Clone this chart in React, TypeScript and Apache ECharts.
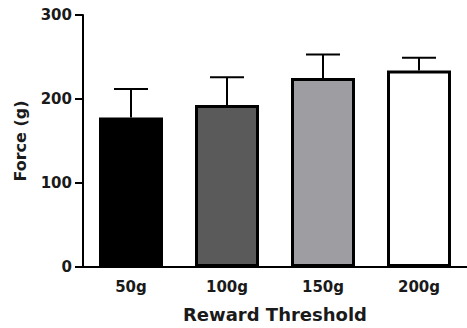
import React, { useEffect, useRef } from "react";
import * as echarts from "echarts";

const categories = ["50g", "100g", "150g", "200g"];
const means = [178, 193, 225, 234];
const upperErrors = [212, 226, 253, 249];
const barColors = ["#000000", "#5a5a5a", "#9e9ea2", "#ffffff"];
const yTicks = [0, 100, 200, 300];

const FONT = "DejaVu Sans";

export default function App() {
  const ref = useRef<HTMLDivElement>(null);
  useEffect(() => {
    if (!ref.current) return;
    const chart = echarts.init(ref.current, null, { renderer: "svg" });
    const errData = means.map((m, i) => [i, m, upperErrors[i]]);
    chart.setOption({
      animation: false,
      backgroundColor: "#ffffff",
      grid: { left: 83, right: 0, top: 15, bottom: 61 },
      xAxis: {
        type: "category",
        data: categories,
        name: "Reward Threshold",
        nameLocation: "middle",
        nameGap: 38,
        nameTextStyle: { fontFamily: FONT, fontWeight: "bold", fontSize: 18, color: "#1a1a1a" },
        axisLine: { lineStyle: { color: "#000", width: 2 } },
        axisTick: { alignWithLabel: true, length: 8, lineStyle: { color: "#000", width: 2 } },
        axisLabel: { fontFamily: FONT, fontWeight: "bold", fontSize: 15, color: "#1a1a1a", margin: 12 },
      },
      yAxis: {
        type: "value",
        min: yTicks[0],
        max: yTicks[yTicks.length - 1],
        interval: 100,
        name: "Force (g)",
        nameLocation: "middle",
        nameGap: 55,
        nameTextStyle: { fontFamily: FONT, fontWeight: "bold", fontSize: 16, color: "#1a1a1a" },
        splitLine: { show: false },
        axisLine: { show: true, lineStyle: { color: "#000", width: 2 } },
        axisTick: { show: true, length: 8, lineStyle: { color: "#000", width: 2 } },
        axisLabel: { fontFamily: FONT, fontWeight: "bold", fontSize: 15, color: "#1a1a1a", margin: 11 },
      },
      series: [
        {
          type: "custom",
          z: 1,
          data: errData,
          encode: { x: 0, y: [1, 2] },
          renderItem: (params: any, api: any) => {
            const i = api.value(0);
            const base = api.coord([i, api.value(1)]);
            const top = api.coord([i, api.value(2)]);
            const hw = 17;
            const style = { stroke: "#000", lineWidth: 2, fill: "none" };
            return {
              type: "group",
              children: [
                { type: "line", shape: { x1: base[0], y1: base[1], x2: top[0], y2: top[1] }, style },
                { type: "line", shape: { x1: top[0] - hw, y1: top[1], x2: top[0] + hw, y2: top[1] }, style },
              ],
            };
          },
        },
        {
          type: "bar",
          z: 2,
          barWidth: 64,
          data: means.map((v, i) => ({
            value: v,
            itemStyle: { color: barColors[i], borderColor: "#000", borderWidth: 3 },
          })),
        },
      ],
    });
    return () => chart.dispose();
  }, []);
  return (
    <div
      ref={ref}
      style={{ position: "fixed", left: 0, top: 0, width: 467, height: 328, background: "#fff" }}
    />
  );
}
